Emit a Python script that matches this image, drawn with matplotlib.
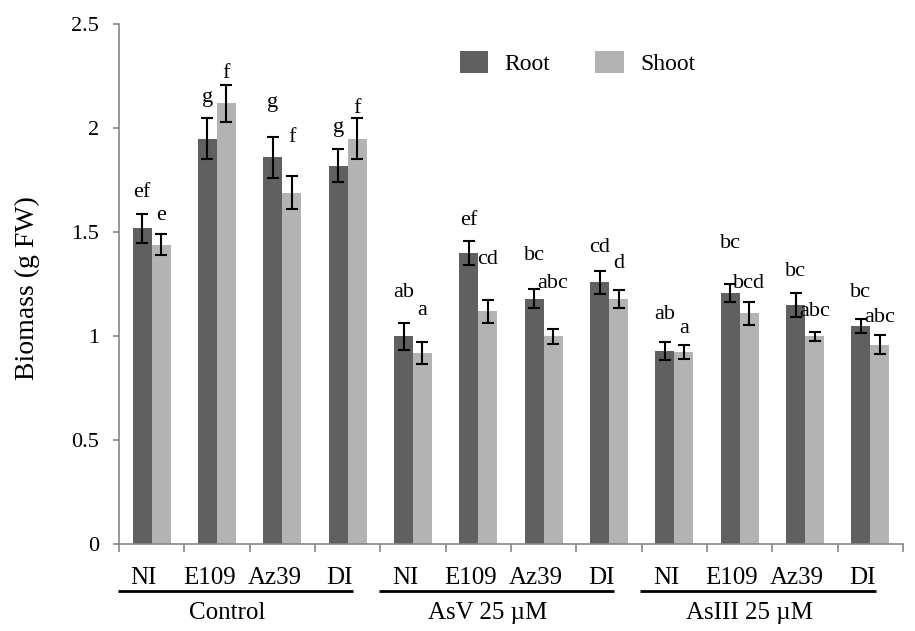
import matplotlib
matplotlib.use("Agg")
import matplotlib.pyplot as plt
import matplotlib.transforms as mtransforms
import numpy as np

plt.rcParams['font.family'] = ['Liberation Serif', 'DejaVu Serif']

# ---- data ----
groups = ["Control", "AsV 25 µM", "AsIII 25 µM"]
strains = ["NI", "E109", "Az39", "DI"]

root_mean = [1.52, 1.95, 1.86, 1.82, 1.00, 1.40, 1.18, 1.26, 0.93, 1.21, 1.15, 1.05]
root_err = [0.07, 0.10, 0.10, 0.08, 0.065, 0.058, 0.045, 0.055, 0.044, 0.043, 0.058, 0.035]
shoot_mean = [1.44, 2.12, 1.69, 1.95, 0.92, 1.12, 1.00, 1.18, 0.925, 1.11, 1.00, 0.96]
shoot_err = [0.05, 0.09, 0.08, 0.10, 0.053, 0.055, 0.036, 0.044, 0.033, 0.055, 0.022, 0.047]

root_letters = ["ef", "g", "g", "g", "ab", "ef", "bc", "cd", "ab", "bc", "bc", "bc"]
shoot_letters = ["e", "f", "f", "f", "a", "cd", "abc", "d", "a", "bcd", "abc", "abc"]
# baseline heights of the significance letters (data units)
root_letter_y = [1.67, 2.126, 2.10, 1.98, 1.187, 1.535, 1.367, 1.407, 1.083, 1.423, 1.291, 1.188]
shoot_letter_y = [1.56, 2.242, 1.936, 2.073, 1.102, 1.348, 1.231, 1.327, 1.014, 1.234, 1.099, 1.070]

series_names = ["Root", "Shoot"]
root_color = "#606060"
shoot_color = "#b3b3b3"

# ---- figure ----
fig = plt.figure(figsize=(9.15, 6.31), dpi=100)
ax = fig.add_axes([0.130, 0.1374, 0.857, 0.8241])

n = len(root_mean)
x = np.arange(n)
w = 0.29

ax.bar(x - w / 2, root_mean, w, color=root_color, label=series_names[0], zorder=2)
ax.bar(x + w / 2, shoot_mean, w, color=shoot_color, label=series_names[1], zorder=2)
ax.errorbar(x - w / 2, root_mean, yerr=root_err, fmt='none', ecolor='black',
            elinewidth=1.5, capsize=4.5, capthick=1.5, zorder=3)
ax.errorbar(x + w / 2, shoot_mean, yerr=shoot_err, fmt='none', ecolor='black',
            elinewidth=1.5, capsize=4.5, capthick=1.5, zorder=3)

for i in range(n):
    ax.text(x[i] - w / 2, root_letter_y[i], root_letters[i], ha='center',
            va='baseline', fontsize=16)
    ax.text(x[i] + w / 2, shoot_letter_y[i], shoot_letters[i], ha='center',
            va='baseline', fontsize=16)

ax.set_xlim(-0.5, n - 0.5)
ax.set_ylim(0, 2.5)
ax.set_yticks(np.arange(0, 2.51, 0.5))
ax.set_yticklabels(["0", "0.5", "1", "1.5", "2", "2.5"])
ax.set_xticks(np.arange(-0.5, n, 1.0))
ax.set_xticklabels([])

for s in ["top", "right"]:
    ax.spines[s].set_visible(False)
for s in ["left", "bottom"]:
    ax.spines[s].set_color("#868686")
    ax.spines[s].set_linewidth(1.2)
ax.tick_params(axis='y', direction='out', length=4.5, width=1.2, color="#868686",
               labelsize=16, pad=10)
ax.tick_params(axis='x', direction='out', length=6, width=1.2, color="#868686")

ax.set_ylabel("Biomass (g FW)", fontsize=20)
ax.yaxis.set_label_coords(-0.1008, 0.493)

# category labels, group underlines and group names
trans = mtransforms.blended_transform_factory(ax.transData, ax.transAxes)
for g, gname in enumerate(groups):
    for k, sname in enumerate(strains):
        i = g * 4 + k
        ax.text(x[i] - 0.12, -0.0648, sname, transform=trans, ha='center',
                va='center', fontsize=18, clip_on=False)
    ax.plot([g * 4 - 0.52, g * 4 + 3.08], [-0.0898, -0.0898], transform=trans,
            color='black', lw=2, clip_on=False, solid_capstyle='butt')
    ax.text(g * 4 + 1.15, -0.132, gname, transform=trans, ha='center',
            va='center', fontsize=18, clip_on=False)

leg = ax.legend(loc='center', bbox_to_anchor=(0.585, 0.9256), ncol=2,
                frameon=False, fontsize=17, handlelength=1.2, handleheight=1.05,
                handletextpad=0.7, columnspacing=1.9)

fig.savefig("out.png", dpi=100)
